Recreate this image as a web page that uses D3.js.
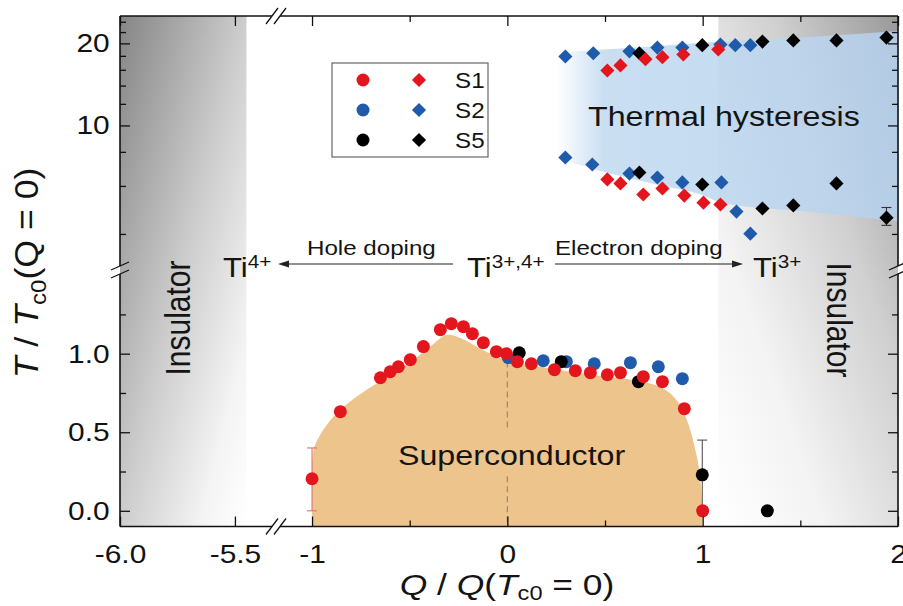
<!DOCTYPE html>
<html>
<head>
<meta charset="utf-8">
<script src="https://cdn.jsdelivr.net/npm/d3@7"></script>
<style>
  body { margin: 0; background: #fff; }
  svg { display: block; font-family: "Liberation Sans", Arial, sans-serif; }
</style>
</head>
<body>
<svg id="chart" width="903" height="606"></svg>
<script>
// ---- data (Q / Q(Tc0=0), T / Tc0) ----

// superconducting Tc (lower panel, circles)
const s1CircQ = [-1.0, -0.855, -0.65, -0.60, -0.558, -0.497, -0.43, -0.343, -0.287, -0.225, -0.179, -0.123, -0.056, -0.005, 0.051, 0.123, 0.241, 0.348, 0.425, 0.512, 0.579, 0.696, 0.794, 0.906, 1.0];
const s1CircT = [0.204, 0.631, 0.847, 0.885, 0.917, 0.962, 1.045, 1.153, 1.191, 1.172, 1.127, 1.070, 1.013, 1.0, 0.949, 0.936, 0.898, 0.892, 0.879, 0.866, 0.879, 0.854, 0.822, 0.650, 0.0];
const s2CircQ = [0.005, 0.184, 0.302, 0.445, 0.630, 0.773, 0.896];
const s2CircT = [0.975, 0.955, 0.949, 0.936, 0.943, 0.917, 0.841];
const s5CircQ = [0.061, 0.276, 0.671, 0.998, 1.331];
const s5CircT = [1.006, 0.949, 0.822, 0.229, 0.0];

// thermal hysteresis (upper panel, diamonds) - upper and lower branch
const s1UpQ = [0.512, 0.579, 0.707, 0.794, 0.901, 1.080];
const s1UpT = [15.9, 16.6, 17.5, 17.8, 18.2, 19.0];
const s1LoQ = [0.512, 0.579, 0.696, 0.794, 0.906, 1.004, 1.091];
const s1LoT = [6.34, 6.13, 5.58, 5.87, 5.53, 5.21, 5.13];
const s2UpQ = [0.297, 0.440, 0.625, 0.768, 0.896, 1.091, 1.167, 1.244];
const s2UpT = [17.9, 18.4, 18.7, 19.3, 19.3, 19.8, 19.7, 19.7];
const s2LoQ = [0.297, 0.435, 0.625, 0.768, 0.896, 1.096, 1.173, 1.244];
const s2LoT = [7.63, 7.19, 6.66, 6.44, 6.18, 6.18, 4.83, 4.01];
const s5UpQ = [0.676, 0.998, 1.306, 1.464, 1.685, 1.941];
const s5UpT = [18.4, 19.7, 20.3, 20.5, 20.5, 21.0];
const s5LoQ = [0.676, 0.998, 1.306, 1.464, 1.685, 1.941];
const s5LoT = [6.72, 6.07, 4.96, 5.09, 6.13, 4.59];

// error bars [Q, T, low, high]
const errS1 = [[-1.0, 0.204, 0.0, 0.40]];
const errS5 = [[0.998, 0.229, 0.01, 0.45]];
const errS5Hyst = [[1.941, 4.59, 4.30, 5.0]];

// superconducting dome outline
const domeQ = [-1.0, -0.99, -0.96, -0.91, -0.84, -0.72, -0.58, -0.46, -0.38, -0.31, -0.24, -0.15, -0.05, 0.05, 0.2, 0.4, 0.6, 0.7, 0.78, 0.84, 0.89, 0.93, 0.96, 0.985, 1.0];
const domeT = [0.30, 0.40, 0.48, 0.57, 0.66, 0.77, 0.88, 0.98, 1.06, 1.12, 1.10, 1.04, 0.98, 0.94, 0.91, 0.87, 0.84, 0.82, 0.79, 0.74, 0.66, 0.54, 0.40, 0.24, -0.1];

// thermal hysteresis band
const hystQ = [0.25, 0.45, 0.75, 1.0, 1.1, 1.5, 2.0];
const hystHigh = [18.5, 18.9, 19.5, 20.1, 20.3, 21.0, 22.2];
const hystLow = [7.6, 6.9, 6.1, 5.55, 5.2, 4.85, 4.45];

// insulator regions (Q range)
const insLeft = [-6.0, -5.45];
const insRight = [1.08, 2.0];

// ticks
const xTicksLeft = [-6.0, -5.5];
const xTicksRight = [-1, 0, 1, 2];
const xMinorRight = [-0.5, 0.5, 1.5];
const yTicksUpper = [10, 20];
const yMinorUpper = [4, 6, 8, 12, 14, 16, 18, 22, 24];
const yTicksLower = [0.0, 0.5, 1.0];
const yMinorLower = [0.25, 0.75, 1.25];

const legendNames = ["S1", "S2", "S5"];
const colors = { S1: "#e3161e", S2: "#1f5aab", S5: "#000000" };

// ---- layout ----
const plotTop = 16, plotBottom = 526.5, plotLeft = 120, plotRight = 898;
const xBreak = 276, yBreak = 270;
const sx = 1.15; // the figure is a bit stretched horizontally

const xL = d3.scaleLinear().domain([-6, -5.33]).range([plotLeft, 274]);
const xR = d3.scaleLinear().domain([-1.164, 2]).range([280, plotRight]);
const yU = d3.scaleLog().domain([3, 25.2]).range([268, plotTop]);
const yL = d3.scaleLinear().domain([-0.1, 1.52]).range([plotBottom, 272]);

const svg = d3.select("#chart");
const defs = svg.append("defs");

function linGrad(id, x1, y1, x2, y2, stops) {
    const g = defs.append("linearGradient").attr("id", id)
        .attr("x1", x1).attr("y1", y1).attr("x2", x2).attr("y2", y2);
    stops.forEach(s => g.append("stop")
        .attr("offset", s[0]).attr("stop-color", s[1]).attr("stop-opacity", s[2] === undefined ? 1 : s[2]));
}
linGrad("gLeft", 0, 0, 1, 1, [[0, "#858585"], [0.5, "#cdcdcd"], [0.82, "#f4f4f4"], [1, "#ffffff"]]);
linGrad("gRight", 0, 1, 1, 0, [[0, "#ffffff"], [0.3, "#f3f3f3"], [0.65, "#d0d0d0"], [1, "#999999"]]);
linGrad("gBlue", 0, 0, 1, 0, [[0, "#c4dcf2", 0], [0.14, "#c2daf0", 0.88], [1, "#b6d2ee", 0.85]]);

/**
 * Backgrounds
 */
svg.append("rect")
    .attr("x", xL(insLeft[0])).attr("y", plotTop)
    .attr("width", xL(insLeft[1]) - xL(insLeft[0])).attr("height", plotBottom - plotTop)
    .attr("fill", "url(#gLeft)");
svg.append("rect")
    .attr("x", xR(insRight[0])).attr("y", plotTop)
    .attr("width", xR(insRight[1]) - xR(insRight[0])).attr("height", plotBottom - plotTop)
    .attr("fill", "url(#gRight)");

svg.append("path")
    .datum(hystQ)
    .attr("fill", "url(#gBlue)")
    .attr("d", d3.area()
        .x(d => xR(d))
        .y0((d, i) => yU(hystLow[i]))
        .y1((d, i) => yU(hystHigh[i]))
        .curve(d3.curveMonotoneX));

svg.append("path")
    .datum(domeQ)
    .attr("fill", "#edc48b")
    .attr("d", d3.area()
        .x(d => xR(d))
        .y0(plotBottom)
        .y1((d, i) => yL(domeT[i]))
        .curve(d3.curveCatmullRom.alpha(0.5)));

// dashed line at Q = 0 (interrupted by the label)
[[0.95, 0.53], [0.22, -0.1]].forEach(seg => {
    svg.append("line")
        .attr("x1", xR(0)).attr("x2", xR(0))
        .attr("y1", yL(seg[0])).attr("y2", yL(seg[1]))
        .attr("stroke", "#8a8a8a").attr("stroke-width", 1.2)
        .attr("stroke-dasharray", "6,4");
});

/**
 * Region labels
 */
function label(x, y, str, size, opts = {}) {
    const rot = opts.rotate || 0;
    const scale = rot === 0 ? `scale(${sx},1)` : `scale(1,${sx})`;
    return svg.append("text")
        .attr("transform", `translate(${x},${y}) rotate(${rot}) ${scale}`)
        .attr("font-size", size)
        .attr("text-anchor", opts.anchor || "start")
        .attr("fill", "#141414")
        .text(str);
}
label(398, 465, "Superconductor", 28);
label(588, 126, "Thermal hysteresis", 28);
label(190, 318, "Insulator", 30, { rotate: -90, anchor: "middle" });
label(827, 320, "Insulator", 30, { rotate: 90, anchor: "middle" });

// Ti valence labels with superscripts
function tiLabel(x, y, sup) {
    const t = svg.append("text")
        .attr("transform", `translate(${x},${y}) scale(${sx},1)`)
        .attr("font-size", 27).attr("fill", "#141414");
    t.append("tspan").text("Ti");
    t.append("tspan").attr("font-size", 18).attr("dy", -9).text(sup);
}
tiLabel(223, 277, "4+");
tiLabel(467, 277, "3+,4+");
tiLabel(753, 277, "3+");
label(307, 255, "Hole doping", 21);
label(555, 255, "Electron doping", 21);

function arrow(x1, x2, y) {
    const dir = Math.sign(x2 - x1);
    svg.append("line")
        .attr("x1", x1).attr("x2", x2 - dir * 8).attr("y1", y).attr("y2", y)
        .attr("stroke", "#222").attr("stroke-width", 1.2);
    svg.append("path")
        .attr("d", `M${x2},${y} L${x2 - dir * 11},${y - 3.5} L${x2 - dir * 11},${y + 3.5} Z`)
        .attr("fill", "#222");
}
arrow(453, 278, 264);
arrow(555, 743, 264);

/**
 * Error bars
 */
function errBars(data, yScale, color) {
    data.forEach(e => {
        const x = xR(e[0]);
        const g = svg.append("g").attr("stroke", color).attr("stroke-width", 1.1);
        g.append("line").attr("x1", x).attr("x2", x).attr("y1", yScale(e[2])).attr("y2", yScale(e[3]));
        [e[2], e[3]].forEach(v => g.append("line")
            .attr("x1", x - 5).attr("x2", x + 5).attr("y1", yScale(v)).attr("y2", yScale(v)));
    });
}
errBars(errS1, yL, "#e07070");
errBars(errS5, yL, "#555");
errBars(errS5Hyst, yU, "#333");

/**
 * Points
 */
function circles(Q, T, color) {
    svg.append("g").selectAll("circle")
        .data(Q)
        .join("circle")
        .attr("cx", d => xR(d))
        .attr("cy", (d, i) => yL(T[i]))
        .attr("r", 6.5)
        .attr("fill", color);
}
const diamondPath = d3.symbol(d3.symbolSquare, 100)();
function diamonds(Q, T, color) {
    svg.append("g").selectAll("path")
        .data(Q)
        .join("path")
        .attr("d", diamondPath)
        .attr("transform", (d, i) => `translate(${xR(d)},${yU(T[i])}) rotate(45)`)
        .attr("fill", color);
}
diamonds(s2UpQ, s2UpT, colors.S2);
diamonds(s2LoQ, s2LoT, colors.S2);
diamonds(s5UpQ, s5UpT, colors.S5);
diamonds(s5LoQ, s5LoT, colors.S5);
diamonds(s1UpQ, s1UpT, colors.S1);
diamonds(s1LoQ, s1LoT, colors.S1);

circles(s2CircQ, s2CircT, colors.S2);
circles(s5CircQ, s5CircT, colors.S5);
circles(s1CircQ, s1CircT, colors.S1);

/**
 * Axes (ticks point inward)
 */
function styleAxis(g, hasText) {
    g.select(".domain").remove();
    g.attr("font-size", 26).attr("font-family", null);
    g.selectAll("line").attr("stroke", "#111").attr("stroke-width", 1.3);
    if (hasText) g.selectAll("text").attr("fill", "#111").attr("transform", `scale(${sx},1)`);
    else g.selectAll("text").remove();
}
function addAxis(axis, tx, ty, hasText) {
    svg.append("g").attr("transform", `translate(${tx},${ty})`).call(axis).call(g => styleAxis(g, hasText));
}
// bottom
addAxis(d3.axisBottom(xL).tickValues(xTicksLeft).tickSize(-10).tickPadding(18).tickFormat(d => d.toFixed(1)), 0, plotBottom, true);
addAxis(d3.axisBottom(xR).tickValues(xTicksRight).tickSize(-10).tickPadding(18).tickFormat(d => String(d)), 0, plotBottom, true);
addAxis(d3.axisBottom(xR).tickValues(xMinorRight).tickSize(-6), 0, plotBottom, false);
// top
addAxis(d3.axisTop(xL).tickValues(xTicksLeft).tickSize(-10), 0, plotTop, false);
addAxis(d3.axisTop(xR).tickValues(xTicksRight).tickSize(-10), 0, plotTop, false);
addAxis(d3.axisTop(xR).tickValues(xMinorRight).tickSize(-6), 0, plotTop, false);
// left
addAxis(d3.axisLeft(yU).tickValues(yTicksUpper).tickSize(-10).tickPadding(9).tickFormat(d3.format("d")), plotLeft, 0, true);
addAxis(d3.axisLeft(yU).tickValues(yMinorUpper).tickSize(-6), plotLeft, 0, false);
addAxis(d3.axisLeft(yL).tickValues(yTicksLower).tickSize(-10).tickPadding(9).tickFormat(d3.format(".1f")), plotLeft, 0, true);
addAxis(d3.axisLeft(yL).tickValues(yMinorLower).tickSize(-6), plotLeft, 0, false);
// right
addAxis(d3.axisRight(yU).tickValues(yTicksUpper).tickSize(-10), plotRight, 0, false);
addAxis(d3.axisRight(yU).tickValues(yMinorUpper).tickSize(-6), plotRight, 0, false);
addAxis(d3.axisRight(yL).tickValues(yTicksLower).tickSize(-10), plotRight, 0, false);
addAxis(d3.axisRight(yL).tickValues(yMinorLower).tickSize(-6), plotRight, 0, false);

/**
 * Frame with axis breaks
 */
const frame = svg.append("g").attr("stroke", "#111").attr("stroke-width", 1.6).attr("fill", "none");
[plotTop, plotBottom].forEach(y => {
    frame.append("line").attr("x1", plotLeft).attr("x2", xBreak - 4).attr("y1", y).attr("y2", y);
    frame.append("line").attr("x1", xBreak + 4).attr("x2", plotRight).attr("y1", y).attr("y2", y);
    [xBreak - 4, xBreak + 4].forEach(x => frame.append("line")
        .attr("x1", x - 6).attr("x2", x + 6).attr("y1", y + 8).attr("y2", y - 8).attr("stroke-width", 1.3));
});
[plotLeft, plotRight].forEach(x => {
    frame.append("line").attr("x1", x).attr("x2", x).attr("y1", plotTop).attr("y2", yBreak - 4);
    frame.append("line").attr("x1", x).attr("x2", x).attr("y1", yBreak + 4).attr("y2", plotBottom);
    [yBreak - 4, yBreak + 4].forEach(y => frame.append("line")
        .attr("x1", x - 9).attr("x2", x + 9).attr("y1", y + 4).attr("y2", y - 4).attr("stroke-width", 1.3));
});

/**
 * Legend
 */
const legend = svg.append("g").attr("transform", "translate(332,63)");
legend.append("rect").attr("width", 156).attr("height", 94)
    .attr("fill", "#fff").attr("stroke", "#666").attr("stroke-width", 1.2);
legendNames.forEach((name, i) => {
    const y = 17 + i * 30;
    legend.append("circle").attr("cx", 31).attr("cy", y).attr("r", 6.5).attr("fill", colors[name]);
    legend.append("path").attr("d", diamondPath)
        .attr("transform", `translate(87,${y}) rotate(45)`).attr("fill", colors[name]);
    legend.append("text")
        .attr("transform", `translate(123,${y + 8}) scale(1.1,1)`)
        .attr("font-size", 22).attr("fill", "#141414").text(name);
});

/**
 * Axis titles
 */
const xTitle = svg.append("text")
    .attr("transform", `translate(507,595) scale(1.18,1)`)
    .attr("text-anchor", "middle").attr("font-size", 30).attr("fill", "#141414");
xTitle.append("tspan").attr("font-style", "italic").text("Q");
xTitle.append("tspan").text(" / ");
xTitle.append("tspan").attr("font-style", "italic").text("Q");
xTitle.append("tspan").text("(");
xTitle.append("tspan").attr("font-style", "italic").text("T");
xTitle.append("tspan").attr("font-size", 20).attr("dy", 5).text("c0");
xTitle.append("tspan").attr("dy", -5).text(" = 0)");

const yTitle = svg.append("text")
    .attr("transform", `translate(38,273) rotate(-90) scale(1.15,1.08)`)
    .attr("text-anchor", "middle").attr("font-size", 31).attr("fill", "#141414");
yTitle.append("tspan").attr("font-style", "italic").text("T");
yTitle.append("tspan").text(" / ");
yTitle.append("tspan").attr("font-style", "italic").text("T");
yTitle.append("tspan").attr("font-size", 21).attr("dy", 7).text("c0");
yTitle.append("tspan").attr("dy", -7).text("(Q = 0)");
</script>
</body>
</html>
